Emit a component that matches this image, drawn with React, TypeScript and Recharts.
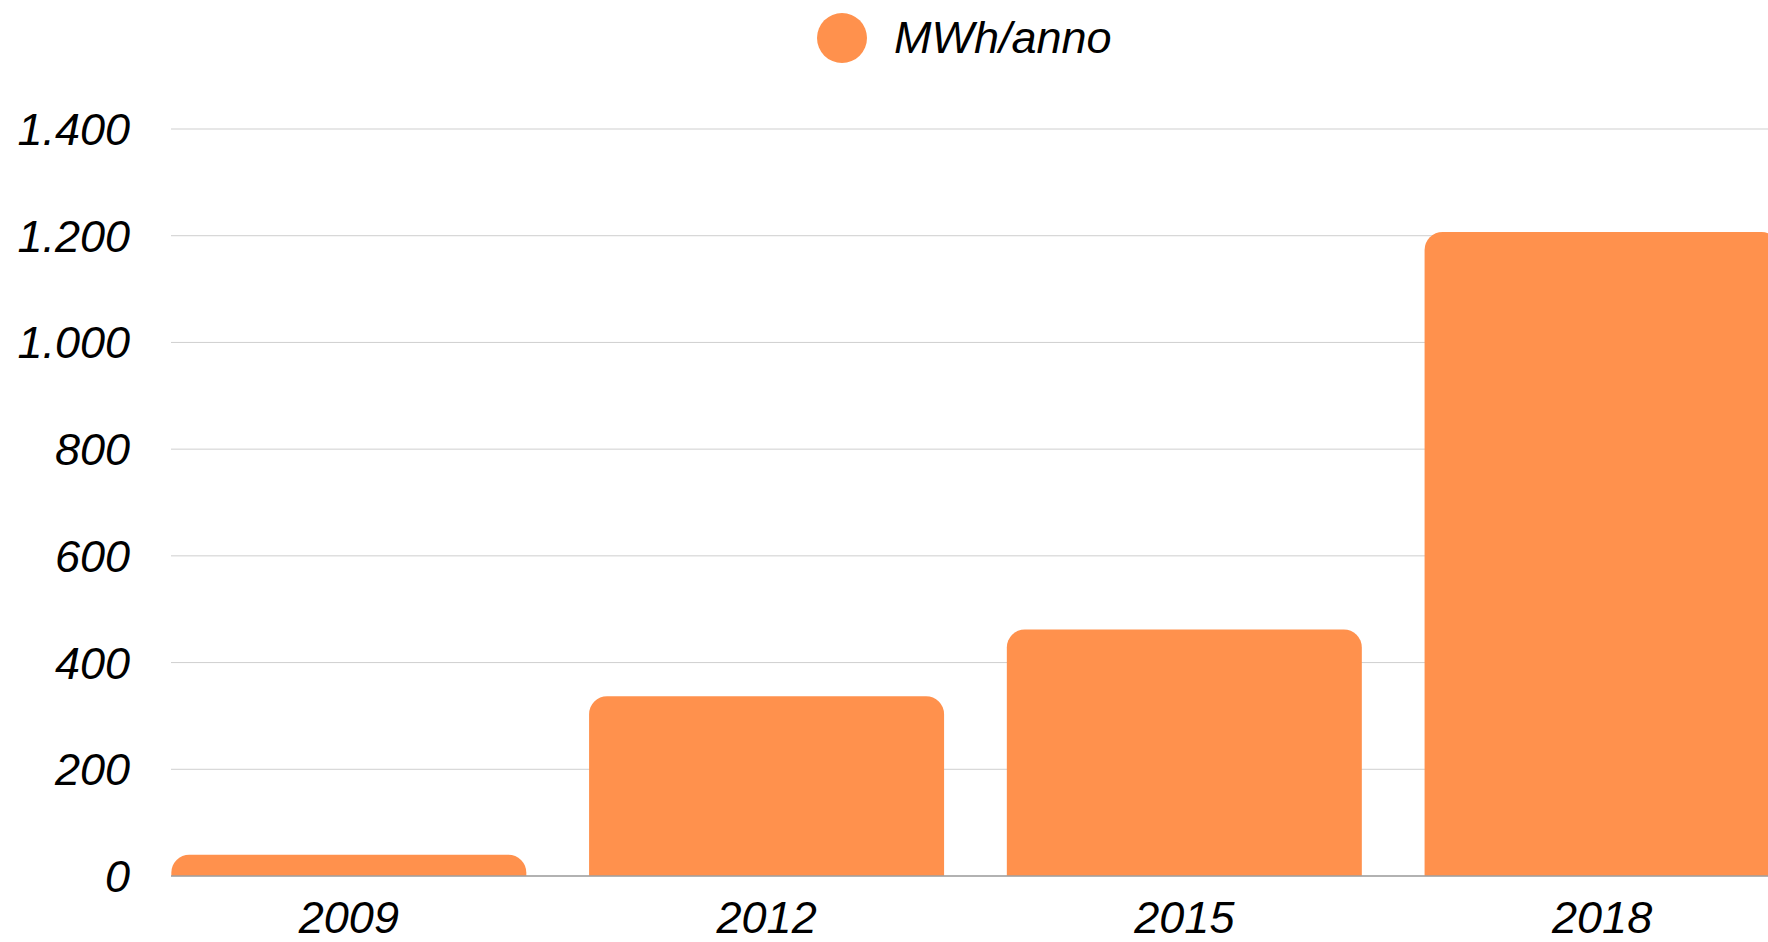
import React from "react";
import {
  BarChart,
  Bar,
  XAxis,
  YAxis,
  CartesianGrid,
  Legend,
} from "recharts";

const years = ["2009", "2012", "2015", "2018"];
const mwhPerYear = [40, 337, 462, 1207];
const yTicks = [0, 200, 400, 600, 800, 1000, 1200, 1400];
const seriesName = "MWh/anno";

const data = years.map((year, i) => ({ year, value: mwhPerYear[i] }));

const ORANGE = "#ff914d";
const FONT = "'Liberation Sans', Arial, sans-serif";

// 1400 -> "1.400"
const fmt = (v: number) => String(v).replace(/\B(?=(\d{3})+(?!\d))/g, ".");

function RoundedTop(props: any) {
  const { x, y, width, height, fill } = props;
  if (!height || height <= 0) return null;
  const r = Math.min(18, height, width / 2);
  const d =
    `M${x},${y + height} L${x},${y + r} ` +
    `A${r},${r} 0 0 1 ${x + r},${y} L${x + width - r},${y} ` +
    `A${r},${r} 0 0 1 ${x + width},${y + r} L${x + width},${y + height} Z`;
  return <path d={d} fill={fill} />;
}

function LegendContent() {
  return (
    <div style={{ display: "flex", alignItems: "center" }}>
      <span
        style={{
          width: 50,
          height: 50,
          borderRadius: "50%",
          background: ORANGE,
          display: "inline-block",
        }}
      />
      <span
        style={{
          marginLeft: 27,
          fontFamily: FONT,
          fontStyle: "italic",
          fontSize: 45,
          color: "#000",
        }}
      >
        {seriesName}
      </span>
    </div>
  );
}

export default function App() {
  const tickStyle = {
    fontSize: 45,
    fontStyle: "italic",
    fontFamily: FONT,
    fill: "#000",
  };
  return (
    <div
      style={{
        position: "absolute",
        left: 0,
        top: 0,
        width: 1768,
        height: 942,
        overflow: "hidden",
        background: "#fff",
      }}
    >
      <BarChart
        width={1811}
        height={942}
        data={data}
        margin={{ top: 129, right: 0, bottom: 0, left: 0 }}
        barCategoryGap="7.5%"
      >
        <CartesianGrid vertical={false} stroke="#cfcfcf" />
        <XAxis
          dataKey="year"
          height={66}
          interval={0}
          padding={{ left: -31, right: 0 }}
          tickLine={false}
          axisLine={{ stroke: "#a0a0a0", strokeWidth: 1.5 }}
          tickMargin={19}
          tick={tickStyle}
        />
        <YAxis
          width={171}
          domain={[0, 1400]}
          ticks={yTicks}
          interval={0}
          tickFormatter={fmt}
          axisLine={false}
          tickLine={false}
          tickMargin={35}
          tick={tickStyle}
        />
        <Legend
          verticalAlign="middle"
          align="center"
          content={<LegendContent />}
          wrapperStyle={{ top: 12, left: 817, width: 320, height: 50 }}
        />
        <Bar
          dataKey="value"
          name={seriesName}
          fill={ORANGE}
          shape={<RoundedTop />}
          isAnimationActive={false}
        />
      </BarChart>
    </div>
  );
}
